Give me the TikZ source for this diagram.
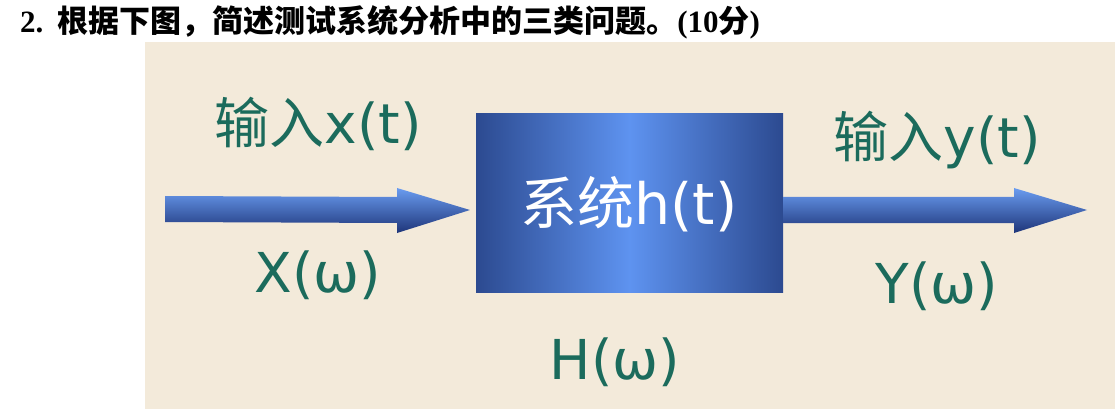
\documentclass[tikz,border=0pt]{standalone}
\usepackage{fontspec}
\setmainfont{Liberation Serif}
\newfontfamily\cjk{Noto Sans CJK SC}
\newfontfamily\lat{DejaVu Sans}
\usetikzlibrary{calc}
\definecolor{panelbg}{HTML}{F3EADA}
\definecolor{lblgreen}{HTML}{1B6B5C}
\definecolor{boxedge}{HTML}{2C4A90}
\definecolor{boxmid}{HTML}{5E93F0}
\definecolor{arrtop}{HTML}{6A9CF0}
\definecolor{arrbot}{HTML}{1E3579}
\tikzset{
  lbl/.style={text=lblgreen, inner sep=0pt, font=\fontsize{55}{62}\selectfont},
  sysbox/.style={minimum width=307pt, minimum height=178pt, inner sep=0pt,
    left color=boxedge, right color=boxedge, middle color=boxmid, draw=none},
  arrfill/.style={top color=arrtop, bottom color=arrbot, draw=none},
}
\newcommand{\fatarrow}[2]{%
  \path[arrfill] ($(#1)+(0,-13)$) -- ($(#2)+(-73,-13)$) -- ($(#2)+(-73,-22)$)
    -- (#2) -- ($(#2)+(-73,23)$) -- ($(#2)+(-73,13)$) -- ($(#1)+(0,13)$) -- cycle;}
\begin{document}
\begin{tikzpicture}[x=1pt,y=-1pt]
\useasboundingbox[fill=white] (0,0) rectangle (1120,409);
\fill[panelbg] (145,42) rectangle (1115,409);
\node[anchor=west, inner sep=0pt, font=\fontsize{31}{34}\selectfont\bfseries] (title) at (20,22)
  {2.\hspace{0.45em}{\cjk 根据下图，简述测试系统分析中的三类问题。}(10{\cjk 分})};
\node[sysbox] (sys) at (629.5,203) {};
\node[text=white, inner sep=0pt, font=\fontsize{57}{64}\selectfont] (syslbl) at (629,204) {{\cjk 系统}\lat h(t)};
\coordinate (xin) at (165,209);
\coordinate (xtip) at (470,210);
\coordinate (ytip) at (1087,210);
\coordinate (yin) at ($(sys.east)+(0,7)$);
\fatarrow{xin}{xtip}
\fatarrow{yin}{ytip}
\node[lbl] (xt) at (318,124) {{\cjk 输入}\lat x(t)};
\node[lbl] (xw) at (318,275) {\lat X(ω)};
\node[lbl] (yt) at (937,140) {{\cjk 输入}\lat y(t)};
\node[lbl] (yw) at (937,286) {\lat Y(ω)};
\node[lbl] (hw) at (615,362) {\lat H(ω)};
\end{tikzpicture}
\end{document}
